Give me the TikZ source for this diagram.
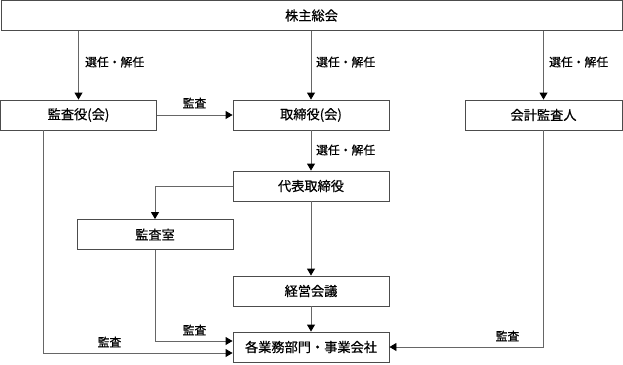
\documentclass[tikz,border=0pt]{standalone}
\usepackage{fontspec}
\setmainfont{Noto Sans CJK JP}[FakeBold=0.7]
\usetikzlibrary{arrows.meta,calc}
\begin{document}
\begin{tikzpicture}[x=1pt,y=-1pt,
  box/.style={draw=black!70, line width=0.9pt, fill=white, minimum height=30pt, inner sep=0pt, font=\fontsize{13.2}{14}\selectfont},
  lbl/.style={font=\fontsize{11.8}{12}\selectfont, inner sep=0pt},
  conn/.style={draw=black!60, line width=0.9pt},
  arr/.style={conn, -{Triangle[length=7pt,width=8pt,fill=black,color=black]}}]
\useasboundingbox (0,0) rectangle (623,364);
\node[box, minimum width=621pt] (top) at (311.5,15.5) {株主総会};
\node[box, minimum width=156pt] (kansa) at (78.5,115) {監査役(会)};
\node[box, minimum width=156pt] (tori) at (311,115) {取締役(会)};
\node[box, minimum width=157pt] (kaikei) at (543.5,115) {会計監査人};
\node[box, minimum width=156pt] (daihyo) at (311,186) {代表取締役};
\node[box, minimum width=156pt] (shitsu) at (155,234.5) {監査室};
\node[box, minimum width=156pt] (keiei) at (311,291) {経営会議};
\node[box, minimum width=156pt] (kaku) at (311,347) {各業務部門・事業会社};
\coordinate (k1) at (43,353);
\coordinate (s1) at (155,341);

\draw[arr] (top.south -| kansa.north) -- (kansa.north);
\draw[arr] (top.south -| tori.north) -- (tori.north);
\draw[arr] (top.south -| kaikei.north) -- (kaikei.north);
\draw[arr] (kansa.east) -- (tori.west);
\draw[arr] (tori.south) -- (daihyo.north);
\draw[arr] (daihyo.west) -| (shitsu.north);
\draw[arr] (daihyo.south) -- (keiei.north);
\draw[arr] (keiei.south) -- (kaku.north);
\draw[arr] (shitsu.south) -- (s1) -- (s1 -| kaku.west);
\draw[arr] (kansa.south -| k1) -- (k1) -- (k1 -| kaku.west);
\draw[arr] (kaikei.south) |- (kaku.east);

\node[lbl, anchor=west] (l1) at (85,62) {選任・解任};
\node[lbl, anchor=west] (l2) at (316,62) {選任・解任};
\node[lbl, anchor=west] (l3) at (549,62) {選任・解任};
\node[lbl, anchor=west] (l4) at (316,150) {選任・解任};
\node[lbl] (m1) at (194.5,103) {監査};
\node[lbl] (m2) at (194.5,330) {監査};
\node[lbl] (m3) at (109.5,342) {監査};
\node[lbl] (m4) at (507.5,336) {監査};
\end{tikzpicture}
\end{document}
